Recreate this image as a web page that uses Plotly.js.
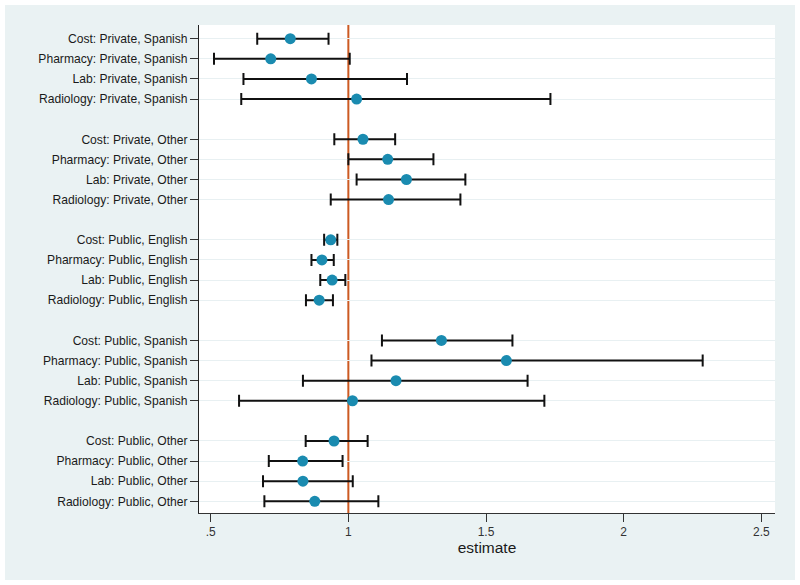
<!DOCTYPE html>
<html>
<head>
<meta charset="utf-8">
<script src="https://cdn.plot.ly/plotly-3.0.1.min.js"></script>
<style>
  html, body { margin: 0; padding: 0; background: #ffffff; }
  #chart { position: absolute; left: 5px; top: 5px; width: 790px; height: 575px; }
</style>
</head>
<body>
<div id="chart"></div>
<script>
// Data
const measures = ["Cost", "Pharmacy", "Lab", "Radiology"];
const groups = ["Private, Spanish", "Private, Other", "Public, English", "Public, Spanish", "Public, Other"];

// estimates, by group, in measure order
const estimate = [
  0.789, 0.718, 0.866, 1.030,
  1.053, 1.143, 1.211, 1.146,
  0.936, 0.904, 0.941, 0.894,
  1.338, 1.574, 1.173, 1.015,
  0.948, 0.834, 0.835, 0.878
];
const ciLow = [
  0.669, 0.512, 0.619, 0.611,
  0.949, 1.000, 1.030, 0.936,
  0.912, 0.866, 0.898, 0.846,
  1.122, 1.084, 0.835, 0.603,
  0.845, 0.711, 0.690, 0.695
];
const ciHigh = [
  0.928, 1.005, 1.213, 1.734,
  1.170, 1.309, 1.425, 1.407,
  0.960, 0.947, 0.989, 0.944,
  1.596, 2.287, 1.651, 1.712,
  1.070, 0.979, 1.016, 1.109
];
const xTickVals = [0.5, 1, 1.5, 2, 2.5];
const xTickText = [".5", "1", "1.5", "2", "2.5"];
const refValue = 1;

// Build labels and row positions (a blank slot between groups)
const labels = [], ypos = [];
groups.forEach((g, gi) => {
  measures.forEach((m, mi) => {
    labels.push(m + ": " + g);
    ypos.push(gi * (measures.length + 1) + mi + 1);
  });
});

const trace = {
  type: "scatter",
  mode: "markers",
  x: estimate,
  y: ypos,
  marker: { color: "#1a8bb0", size: 11, line: { width: 0 } },
  error_x: {
    type: "data",
    symmetric: false,
    array: ciHigh.map((h, i) => h - estimate[i]),
    arrayminus: ciLow.map((l, i) => estimate[i] - l),
    color: "#111111",
    thickness: 2,
    width: 6
  },
  hoverinfo: "x+text",
  text: labels,
  showlegend: false
};

const layout = {
  width: 790,
  height: 575,
  paper_bgcolor: "#eaf2f3",
  plot_bgcolor: "#ffffff",
  margin: { l: 194, r: 20, t: 20, b: 67 },
  font: { family: "Liberation Sans, Arial, sans-serif", color: "#1a1a1a", size: 12 },
  xaxis: {
    range: [0.4575, 2.5497],
    tickvals: xTickVals,
    ticktext: xTickText,
    ticks: "outside",
    ticklen: 8,
    tickwidth: 1,
    tickcolor: "#333333",
    showgrid: false,
    zeroline: false,
    showline: true,
    linecolor: "#333333",
    linewidth: 1,
    tickfont: { size: 12, color: "#333333" },
    title: { text: "estimate", font: { size: 15.5, color: "#1a1a1a" }, standoff: 1 }
  },
  yaxis: {
    range: [24.58, 0.32],
    tickvals: ypos,
    ticktext: labels,
    ticks: "outside",
    ticklen: 8,
    tickwidth: 1,
    tickcolor: "#333333",
    showgrid: true,
    gridcolor: "#e8f0f2",
    gridwidth: 1,
    zeroline: false,
    showline: true,
    linecolor: "#222222",
    linewidth: 1,
    tickfont: { size: 12.1, color: "#1a1a1a" }
  },
  shapes: [{
    type: "line",
    xref: "x", yref: "paper",
    x0: refValue, x1: refValue, y0: 0, y1: 1,
    line: { color: "#cc5a22", width: 2 },
    layer: "between"
  }]
};

Plotly.newPlot("chart", [trace], layout, { displayModeBar: false, staticPlot: true });
</script>
</body>
</html>
